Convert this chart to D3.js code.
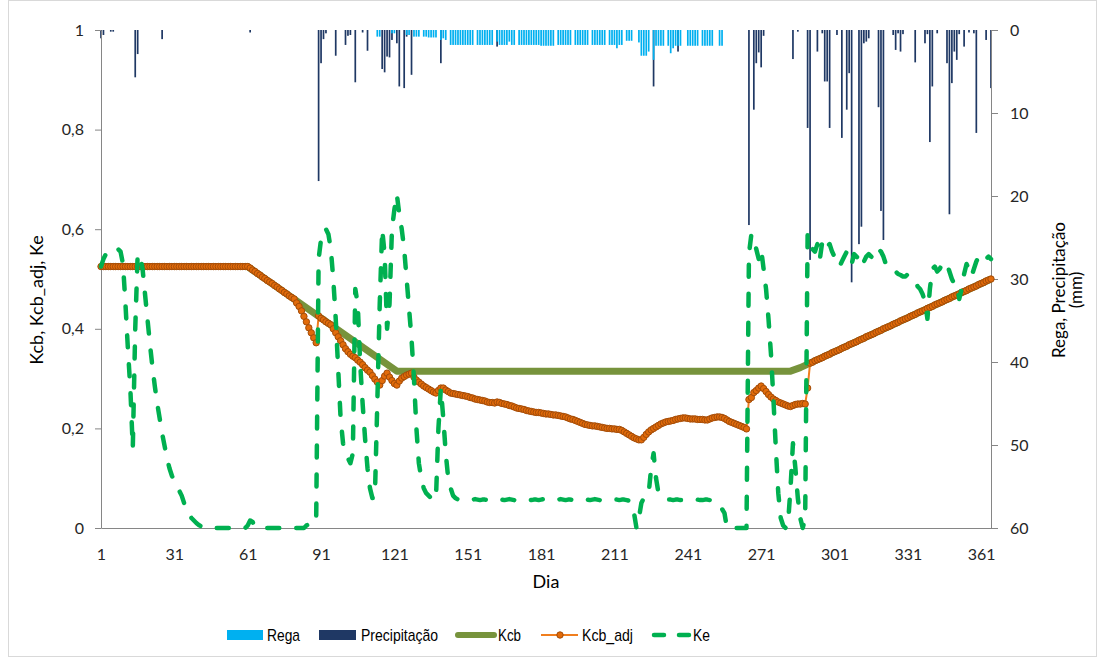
<!DOCTYPE html>
<html><head><meta charset="utf-8">
<script src="https://cdn.jsdelivr.net/npm/d3@7"></script>
<style>body{margin:0;background:#fff}svg{display:block}</style>
</head><body>
<svg id="c" width="1098" height="658"></svg>
<script>
// ---------- data ----------
const xTicks = [1,31,61,91,121,151,181,211,241,271,301,331,361];
const leftTicks = [0,0.2,0.4,0.6,0.8,1];
const rightTicks = [0,10,20,30,40,50,60];

// Kcb (breakpoints of the crop coefficient curve)
const kcbDays   = [1,61,122,283,287,291,365];
const kcbValues = [0.525,0.525,0.315,0.315,0.322,0.331,0.500];

// Kcb_adj, day 1..365
const kcbAdj = [
.525,.525,.525,.525,.525,.525,.525,.525,.525,.525,
.525,.525,.525,.525,.525,.525,.525,.525,.525,.525,
.525,.525,.525,.525,.525,.525,.525,.525,.525,.525,
.525,.525,.525,.525,.525,.525,.525,.525,.525,.525,
.525,.525,.525,.525,.525,.525,.525,.525,.525,.525,
.525,.525,.525,.525,.525,.525,.525,.525,.525,.525,
.525,.522,.518,.515,.511,.508,.504,.501,.497,.494,
.491,.487,.484,.480,.477,.473,.470,.466,.463,.460,
.452,.445,.436,.425,.414,.402,.392,.382,.372,.426,
.421,.418,.414,.411,.408,.400,.392,.384,.376,.368,
.360,.354,.349,.345,.342,.337,.333,.328,.322,.317,
.313,.306,.299,.293,.287,.296,.305,.311,.303,.296,
.290,.287,.295,.301,.304,.307,.309,.311,.303,.297,
.293,.289,.285,.282,.279,.276,.273,.271,.276,.281,
.281,.277,.274,.271,.270,.269,.268,.267,.266,.265,
.264,.262,.261,.259,.258,.257,.256,.255,.253,.252,
.252,.251,.253,.252,.250,.249,.248,.246,.245,.243,
.241,.240,.239,.238,.236,.235,.234,.233,.232,.232,
.231,.230,.229,.229,.228,.227,.227,.226,.225,.224,
.223,.221,.219,.218,.216,.214,.212,.210,.208,.207,
.206,.205,.205,.204,.203,.202,.201,.200,.200,.199,
.199,.198,.198,.196,.193,.190,.187,.184,.181,.179,
.177,.177,.182,.188,.193,.197,.200,.203,.206,.209,
.211,.213,.214,.215,.216,.218,.219,.220,.221,.221,
.220,.219,.219,.219,.218,.218,.218,.217,.217,.219,
.221,.222,.223,.223,.222,.220,.217,.214,.212,.210,
.208,.206,.204,.202,.199,.258,.262,.272,.276,.281,
.285,.280,.274,.268,.263,.259,.256,.253,.251,.249,
.247,.245,.244,.246,.248,.249,.249,.250,.249,.281,
.331,.333,.336,.338,.340,.342,.345,.347,.349,.352,
.354,.356,.358,.361,.363,.365,.368,.370,.372,.374,
.377,.379,.381,.384,.386,.388,.390,.393,.395,.397,
.400,.402,.404,.406,.409,.411,.413,.416,.418,.420,
.422,.425,.427,.429,.432,.434,.436,.438,.441,.443,
.445,.448,.450,.452,.454,.457,.459,.461,.464,.466,
.468,.470,.473,.475,.477,.480,.482,.484,.486,.489,
.491,.493,.496,.498,.500
];

// Ke, day 1..365
const ke = [
.525,.540,.550,.555,.560,.563,.562,.560,.555,.530,
.450,.360,.280,.160,.400,.550,.548,.520,.470,.420,
.370,.325,.285,.250,.220,.190,.165,.140,.120,.105,
.095,.085,.075,.065,.050,.035,.028,.020,.015,.010,
.006,.003,0,0,0,0,0,0,0,0,
0,0,0,0,0,0,0,0,0,0,
.005,.015,.012,.004,0,0,0,0,0,0,
0,0,0,0,0,0,0,0,0,0,
0,0,0,0,.005,.008,.010,.010,.010,.540,
.580,.600,.600,.590,.560,.500,.420,.320,.220,.170,
.150,.140,.130,.150,.480,.450,.330,.250,.180,.120,
.080,.060,.060,.250,.450,.600,.550,.400,.450,.600,
.640,.670,.630,.600,.560,.500,.440,.380,.300,.200,
.130,.100,.080,.070,.065,.060,.055,.060,.200,.280,
.220,.150,.100,.080,.065,.060,.057,.056,.056,.057,
.057,.056,.057,.058,.057,.056,.057,.057,.056,.057,
.058,.057,.056,.057,.057,.056,.057,.058,.057,.056,
.057,.057,.056,.057,.058,.057,.056,.057,.057,.056,
.057,.058,.057,.056,.057,.057,.056,.057,.058,.057,
.056,.057,.057,.056,.057,.058,.057,.056,.057,.057,
.056,.057,.058,.057,.056,.057,.057,.056,.057,.058,
.057,.057,.056,.057,.057,.056,.055,.050,.030,.000,
.020,.050,.060,.060,.070,.120,.150,.100,.070,.065,
.060,.058,.057,.057,.056,.057,.057,.056,.056,.057,
.057,.056,.056,.057,.057,.056,.056,.057,.057,.056,
.056,.055,.052,.045,.038,.030,.000,0,0,0,
0,0,0,0,0,.550,.590,.580,.560,.540,
.560,.520,.480,.420,.350,.260,.160,.070,.020,.005,
.000,.010,.080,.170,.120,.060,.020,.000,.020,.590,
.580,.560,.555,.570,.540,.575,.560,.565,.570,.555,
.545,.540,.525,.535,.545,.555,.545,.530,.550,.545,
.540,.550,.535,.545,.550,.545,.540,.550,.560,.555,
.545,.530,.522,.520,.520,.515,.510,.508,.505,.505,
.510,.505,.500,.495,.485,.480,.470,.455,.420,.480,
.520,.525,.515,.520,.530,.535,.530,.515,.500,.490,
.490,.460,.480,.510,.530,.520,.505,.520,.535,.545,
.550,.548,.540,.545,.540
];

// Precipitação [day, mm]
const precipitation = [
[1,1.0],[2,0.6],[5,0.2],[6,0.2],[15,5.7],[16,2.9],[26,1.1],[62,0.3],
[90,18.2],[91,4.0],[92,1.1],[93,0.4],[97,3.1],[101,1.8],[102,0.7],[103,0.6],
[105,6.3],[108,0.3],[110,2.5],[116,4.7],[117,5.1],[118,3.2],[119,3.3],[120,1.2],
[122,1.6],[123,6.8],[125,7.0],[126,0.8],[128,5.4],[140,4.0],[163,2.0],[227,6.8],
[237,2.6],[266,23.5],[268,9.6],[269,4.0],[270,2.7],[271,4.5],[272,0.7],[284,3.5],
[286,0.2],[290,11.8],[291,27.7],[294,2.6],[296,0.4],[297,6.2],[298,6.2],[299,11.8],
[302,0.6],[304,13.0],[306,9.6],[307,5.2],[308,30.4],[311,25.8],[312,23.7],[313,1.6],
[314,1.4],[315,1.0],[319,9.3],[320,21.8],[321,25.3],[325,0.6],[326,2.4],[327,0.4],
[328,2.6],[329,0.5],[334,3.9],[338,1.6],[339,0.5],[340,13.5],[341,6.8],[343,0.4],
[347,4.0],[348,22.2],[349,6.4],[350,2.6],[351,3.6],[352,0.5],[354,2.0],[356,0.3],
[358,0.4],[359,12.4],[363,1.2],[365,7.0]
];

// Rega [day, mm]
const rega = [
[114,0.8],[115,0.8],[120,0.4],[121,0.4],[126,0.6],[127,0.6],[129,0.8],[130,0.8],[131,0.8],
[133,0.8],[134,0.8],[135,0.9],[136,0.9],[137,0.9],[138,0.9],[140,1.2],[141,1.0],[142,1.2],
[144,1.8],[145,1.8],[146,1.8],[147,1.8],[148,1.8],[149,1.8],[150,1.8],[151,1.8],[152,1.8],[153,1.8],
[155,1.8],[156,1.8],[157,1.8],[158,1.8],[159,1.8],[160,1.8],[161,1.8],
[163,1.4],[164,1.8],[165,1.8],[166,1.8],[167,1.8],[168,1.4],[169,1.8],[170,1.8],
[172,1.8],[173,1.8],[174,1.8],[175,1.8],[176,1.8],[177,1.8],[178,1.8],[179,1.8],[180,1.8],
[181,1.9],[182,1.9],[183,1.9],[184,1.9],[185,1.9],[186,1.9],
[188,1.8],[189,1.8],[190,1.8],[191,1.8],[192,1.8],[193,1.8],
[195,1.8],[196,1.8],[197,1.8],[198,1.8],[199,1.8],[200,1.8],
[202,1.8],[203,1.8],[204,1.8],[205,1.8],[206,1.8],[207,1.8],
[209,1.8],[210,1.8],[211,1.8],[212,2.2],[213,1.8],[214,1.8],
[216,1.3],[217,1.3],[218,1.3],
[221,1.5],[222,3.1],[223,3.1],[224,3.1],[225,2.6],
[227,3.6],[228,1.9],[229,1.9],[230,1.9],[231,1.9],
[233,1.9],[234,2.8],[235,2.2],[236,1.9],[237,1.9],[238,1.9],
[241,1.9],[242,1.9],[243,1.9],[244,1.9],[245,1.9],
[247,1.9],[248,1.9],[249,1.9],[250,1.9],[251,1.9],
[254,1.9],[255,1.9]
];

// legend entries
const legendLabels = ["Rega","Precipitação","Kcb","Kcb_adj","Ke"];

// ---------- chart ----------
const svg = d3.select("#c");
const x  = d3.scaleLinear().domain([1,365]).range([101,991]);
const yL = d3.scaleLinear().domain([0,1]).range([528,30]);
const yR = d3.scaleLinear().domain([0,60]).range([30,528]);
const days = kcbAdj.map((v,i)=>i+1);

const tickFont = "Lato, 'Open Sans', sans-serif";
const axisColor = "#868686";

// frame
svg.append("rect").attr("x",8.5).attr("y",0.5).attr("width",1088).attr("height",656)
  .attr("fill","none").attr("stroke","#d9d9d9");

// bars
const bw = 1.7;
svg.append("g").selectAll("rect").data(precipitation).join("rect")
  .attr("x",d=>x(d[0])-bw/2).attr("y",yR(0))
  .attr("width",bw).attr("height",d=>yR(d[1])-yR(0))
  .attr("fill","#1F3864");
svg.append("g").selectAll("rect").data(rega).join("rect")
  .attr("x",d=>x(d[0])-bw/2).attr("y",yR(0))
  .attr("width",bw).attr("height",d=>yR(d[1])-yR(0))
  .attr("fill","#00B0F0");

// axes
function styleAxis(g){
  g.selectAll(".domain").attr("stroke",axisColor);
  g.selectAll(".tick line").attr("stroke",axisColor);
  g.selectAll("text").attr("fill","#262626").style("font-family",tickFont).style("font-size","16px");
}
const fmtL = d => d===0 ? "0" : d===1 ? "1" : d3.format(".1f")(d).replace(".",",");
svg.append("g").attr("transform","translate(101,0)")
  .call(d3.axisLeft(yL).tickValues(leftTicks).tickFormat(fmtL).tickSize(6).tickSizeOuter(0).tickPadding(11))
  .call(styleAxis);
svg.append("g").attr("transform","translate(991,0)")
  .call(d3.axisRight(yR).tickValues(rightTicks).tickSize(7).tickSizeOuter(0).tickPadding(12))
  .call(styleAxis);
svg.append("g").attr("transform","translate(0,528)")
  .call(d3.axisBottom(x).tickValues(xTicks).tickSize(0).tickSizeOuter(0).tickPadding(21))
  .call(styleAxis);

// lines
const kcbLine = d3.line().x((d,i)=>x(kcbDays[i])).y(d=>yL(d));
svg.append("path").datum(kcbValues).attr("d",kcbLine)
  .attr("fill","none").attr("stroke","#77933C").attr("stroke-width",7).attr("stroke-linejoin","round");

const dayLine = d3.line().x((d,i)=>x(days[i])).y(d=>yL(d));
svg.append("path").datum(kcbAdj).attr("d",dayLine)
  .attr("fill","none").attr("stroke","#F07E1E").attr("stroke-width",2);
svg.append("g").selectAll("circle").data(kcbAdj).join("circle")
  .attr("cx",(d,i)=>x(days[i])).attr("cy",d=>yL(d)).attr("r",3.2)
  .attr("fill","#E26B0A").attr("stroke","#A34C08").attr("stroke-width",1);

svg.append("path").datum(ke).attr("d",dayLine)
  .attr("fill","none").attr("stroke","#00B050").attr("stroke-width",4.5)
  .attr("stroke-dasharray","12,17").attr("stroke-linecap","round").attr("stroke-linejoin","round");

// axis titles
const titleFont = "Lato, 'Open Sans', sans-serif";
svg.append("text").attr("transform","translate(43,300) rotate(-90)")
  .attr("text-anchor","middle").style("font-family",titleFont).style("font-size","18px").attr("fill","#000")
  .text("Kcb, Kcb_adj, Ke");
svg.append("text").attr("transform","translate(1065,290) rotate(-90)")
  .attr("text-anchor","middle").style("font-family",titleFont).style("font-size","17px").attr("fill","#000")
  .text("Rega, Precipitação");
svg.append("text").attr("transform","translate(1082,290) rotate(-90)")
  .attr("text-anchor","middle").style("font-family",titleFont).style("font-size","17px").attr("fill","#000")
  .text("(mm)");
svg.append("text").attr("x",546).attr("y",588).attr("text-anchor","middle")
  .style("font-family",titleFont).style("font-size","18px").attr("fill","#000").text("Dia");

// legend
const legFont = "'Liberation Sans','Arial',sans-serif";
const ly = 635;
const legX = [267,361,498,582,693];
const legW = [33,77,23,51,17];
const leg = svg.append("g").style("font-family",legFont).style("font-size","17px");
leg.append("rect").attr("x",227).attr("y",ly-5).attr("width",36).attr("height",10).attr("fill","#00B0F0");
leg.append("rect").attr("x",319).attr("y",ly-5).attr("width",37).attr("height",10).attr("fill","#1F3864");
leg.append("line").attr("x1",458).attr("x2",494).attr("y1",ly).attr("y2",ly)
  .attr("stroke","#77933C").attr("stroke-width",6).attr("stroke-linecap","round");
leg.append("line").attr("x1",541).attr("x2",578).attr("y1",ly).attr("y2",ly)
  .attr("stroke","#F07E1E").attr("stroke-width",2);
leg.append("circle").attr("cx",560).attr("cy",ly).attr("r",3.2)
  .attr("fill","#E26B0A").attr("stroke","#A34C08");
leg.append("line").attr("x1",654).attr("x2",690).attr("y1",ly).attr("y2",ly)
  .attr("stroke","#00B050").attr("stroke-width",4.5).attr("stroke-dasharray","10,15").attr("stroke-linecap","round");
leg.selectAll("text").data(legendLabels).join("text")
  .attr("x",(d,i)=>legX[i]).attr("y",ly+6)
  .attr("textLength",(d,i)=>legW[i]).attr("lengthAdjust","spacingAndGlyphs")
  .attr("fill","#000").text(d=>d);
</script>
</body></html>
